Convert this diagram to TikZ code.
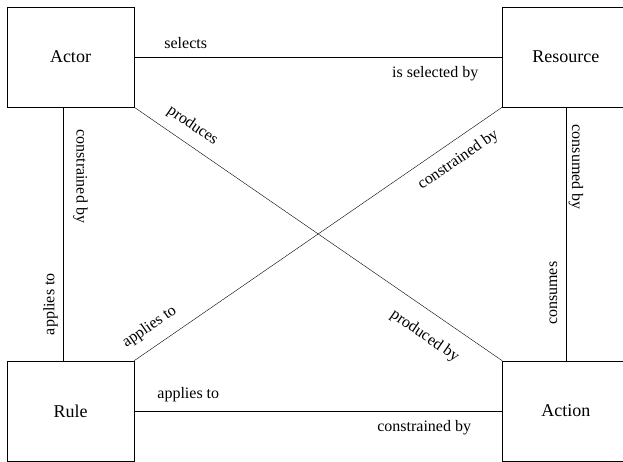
\documentclass[tikz,border=0pt]{standalone}
\usepackage{fontspec}
\setmainfont{Liberation Serif}
\usepackage{tikz}
\usetikzlibrary{positioning}

\begin{document}
\begin{tikzpicture}[
    node distance=253.5pt and 368pt,
    entity/.style={draw, rectangle, minimum width=127pt, minimum height=100pt, inner sep=0pt, font=\fontsize{18}{21}\selectfont},
    role/.style={font=\fontsize{16}{19}\selectfont}
]
    \useasboundingbox (0,0) rectangle (623pt,-461pt);
    \clip (0,0) rectangle (623pt,-461pt);

    % Arrange entities
    \node[entity] (actor) at (70.5pt,-57pt) {Actor};
    \node[entity, right=of actor] (resource) {Resource};
    \node[entity, below=of actor] (rule) {Rule};
    \node[entity, right=of rule] (action) {Action};

    % Relations
    \draw (actor) -- (resource)
        node[role, pos=0.14, above=5pt] {selects}
        node[role, pos=0.818, below=6pt] {is selected by};
    \draw (rule) -- (action)
        node[role, pos=0.147, above=5pt] {applies to}
        node[role, pos=0.788, below=6pt] {constrained by};
    \draw ([xshift=-7pt]actor.south) -- ([xshift=-7pt]rule.north)
        node[role, pos=0.272, xshift=17pt, rotate=-90] {constrained by}
        node[role, pos=0.777, xshift=-13pt, rotate=90] {applies to};
    \draw (resource.south) -- (action.north)
        node[role, pos=0.237, xshift=10pt, rotate=-90] {consumed by}
        node[role, pos=0.734, xshift=-12.5pt, rotate=90] {consumes};
    \draw (actor.south east) -- (action.north west)
        node[role, pos=0.131, sloped, above=7pt] {produces}
        node[role, pos=0.826, sloped, below=13pt] {produced by};
    \draw (rule.north east) -- (resource.south west)
        node[role, pos=0.071, sloped, above=8pt] {applies to}
        node[role, pos=0.852, sloped, below=8pt] {constrained by};
\end{tikzpicture}
\end{document}
